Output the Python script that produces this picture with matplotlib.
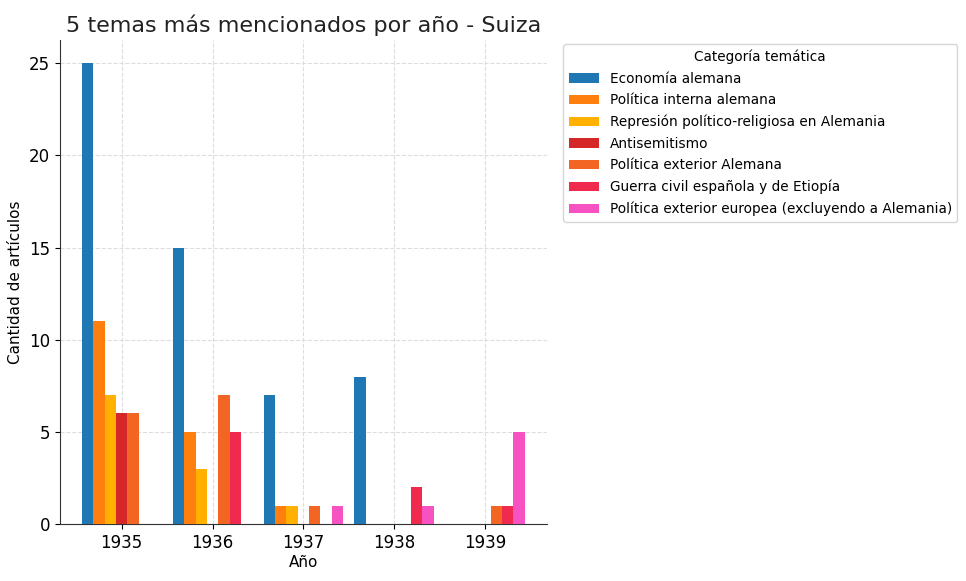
import numpy as np
import matplotlib.pyplot as plt

years = [1935, 1936, 1937, 1938, 1939]
categorias = [
    'Economía alemana',
    'Política interna alemana',
    'Represión político-religiosa en Alemania',
    'Antisemitismo',
    'Política exterior Alemana',
    'Guerra civil española y de Etiopía',
    'Política exterior europea (excluyendo a Alemania)',
]
economia = [25, 15, 7, 8, 0]
politica_interna = [11, 5, 1, 0, 0]
represion = [7, 3, 1, 0, 0]
antisemitismo = [6, 0, 0, 0, 0]
exterior_alemana = [6, 7, 1, 0, 1]
guerra_civil = [0, 5, 0, 2, 1]
exterior_europea = [0, 0, 1, 1, 5]

series = [economia, politica_interna, represion, antisemitismo,
          exterior_alemana, guerra_civil, exterior_europea]
colores = ['#1f77b4', '#ff7f0e', '#ffb000', '#d62728',
           '#f26522', '#f0294f', '#f752c2']

fig = plt.figure(figsize=(9.66, 5.81), dpi=100)
ax = fig.add_axes([0.062, 0.098, 0.504, 0.833])

x = np.arange(len(years))
w = 0.125
for i, (vals, cat, col) in enumerate(zip(series, categorias, colores)):
    ax.bar(x + (i - 3) * w, vals, width=w, color=col, label=cat, zorder=3)

ax.set_xticks(x)
ax.set_xticklabels([str(y) for y in years], fontsize=12)
ax.set_yticks([0, 5, 10, 15, 20, 25])
ax.tick_params(axis='y', labelsize=12)
ax.set_xlabel('Año', fontsize=11, labelpad=2)
ax.set_ylabel('Cantidad de artículos', fontsize=11)
ax.set_title('5 temas más mencionados por año - Suiza', fontsize=16, color='#222222')
ax.grid(True, linestyle='--', color='#dddddd', linewidth=0.8, zorder=0)
ax.spines['top'].set_visible(False)
ax.spines['right'].set_visible(False)
ax.spines['left'].set_color('#333333')
ax.spines['bottom'].set_color('#333333')

leg = ax.legend(title='Categoría temática', loc='upper left',
                bbox_to_anchor=(1.02, 1.005), fontsize=9.8, title_fontsize=9.8,
                handlelength=2.2, labelspacing=0.55, frameon=True)
leg.get_frame().set_edgecolor('#cccccc')

fig.savefig('out.png', dpi=100)
